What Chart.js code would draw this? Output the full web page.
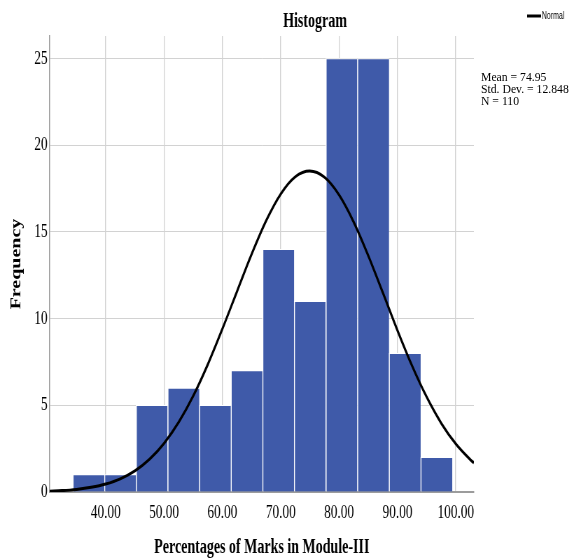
<!DOCTYPE html>
<html>
<head>
<meta charset="utf-8">
<script src="https://cdn.jsdelivr.net/npm/chart.js@4"></script>
<style>
  html, body { margin: 0; padding: 0; background: #fff; overflow: hidden; }
  #wrap { position: absolute; left: 0; top: 0; width: 816px; height: 558px; transform: scaleX(0.7); transform-origin: 0 0; }
  #stats { position: absolute; left: 481px; top: 71px; font: 13px/12.2px "Liberation Serif", serif; color: #000; transform: scaleX(0.9); transform-origin: 0 0; white-space: nowrap; }
</style>
</head>
<body>
<div id="wrap"><canvas id="myChart" width="816" height="558"></canvas></div>
<div id="stats">Mean = 74.95<br>Std. Dev. = 12.848<br>N = 110</div>
<script>
// histogram bins (centre of each bin) and counts
const binCenters = [37.06, 42.48, 47.90, 53.32, 58.74, 64.16, 69.58, 75.00, 80.42, 85.84, 91.26, 96.68];
const frequencies = [1, 1, 5, 6, 5, 7, 14, 11, 25, 25, 8, 2];

// normal curve
const curveX = [30.4, 32.5, 35, 37.5, 40, 42.5, 45, 47.5, 50, 52.5, 55, 57.5, 60, 62.5, 65, 67.5, 70, 72.5, 74.95,
  77.5, 80, 82.5, 85, 87.5, 90, 92.5, 95, 97.5, 100, 102.5, 103.1];
const curveY = [0.05, 0.08, 0.15, 0.27, 0.46, 0.76, 1.22, 1.89, 2.81, 4.02, 5.54, 7.36, 9.41, 11.57, 13.71, 15.65, 17.19, 18.18, 18.51,
  18.15, 17.13, 15.57, 13.63, 11.49, 9.32, 7.28, 5.48, 3.97, 2.77, 1.86, 1.68];

const xTicks = [40, 50, 60, 70, 80, 90, 100];
const yTicks = [0, 5, 10, 15, 20, 25];

const chartTitle = 'Histogram';
const xTitle = 'Percentages of Marks in Module-III';
const yTitle = 'Frequency';

const serif = '"Liberation Serif", "Times New Roman", serif';

const header = {
  id: 'header',
  afterDraw(chart) {
    const ctx = chart.ctx;
    ctx.save();
    ctx.fillStyle = '#000';
    ctx.font = 'bold 20px ' + serif;
    ctx.textAlign = 'center';
    ctx.textBaseline = 'alphabetic';
    ctx.fillText(chartTitle, 450, 26.5);
    // legend entry for the curve
    ctx.strokeStyle = '#000';
    ctx.lineWidth = 3;
    ctx.beginPath();
    ctx.moveTo(753, 16);
    ctx.lineTo(773, 16);
    ctx.stroke();
    ctx.font = '10px "Liberation Sans", Arial, sans-serif';
    ctx.textAlign = 'left';
    ctx.textBaseline = 'middle';
    ctx.fillText(chart.data.datasets[0].label, 774, 16.5);
    ctx.restore();
  }
};

const data = {
  datasets: [
    {
      type: 'line',
      label: 'Normal',
      data: curveX.map((x, i) => ({ x: x, y: curveY[i] })),
      borderColor: '#000',
      borderWidth: 3,
      pointRadius: 0,
      fill: false,
      tension: 0.4,
      cubicInterpolationMode: 'monotone',
      order: 0
    },
    {
      type: 'bar',
      label: 'Frequency',
      data: binCenters.map((x, i) => ({ x: x, y: frequencies[i] })),
      backgroundColor: '#3f5aa9',
      borderColor: '#ffffff',
      borderWidth: { left: 1.5, right: 0, top: 1, bottom: 0 },
      borderSkipped: false,
      categoryPercentage: 1,
      barPercentage: 1,
      order: 1
    }
  ]
};

const config = {
  type: 'bar',
  data: data,
  options: {
    responsive: false,
    animation: false,
    devicePixelRatio: 1,
    layout: { padding: { top: 36, right: 139, bottom: 0, left: 0 } },
    plugins: {
      legend: { display: false },
      title: { display: false },
      tooltip: { enabled: false }
    },
    scales: {
      x: {
        type: 'linear',
        min: 30.4,
        max: 103.1,
        offset: false,
        afterFit(scale) { scale.height = 66; },
        afterBuildTicks(scale) { scale.ticks = xTicks.map(v => ({ value: v })); },
        ticks: {
          color: '#000',
          font: { family: serif, size: 19 },
          padding: 10,
          callback: v => v.toFixed(2)
        },
        grid: { color: '#d2d2d2', lineWidth: 1.4, drawTicks: false, offset: false },
        border: { color: '#9c9c9c', width: 2 },
        title: {
          display: true,
          text: xTitle,
          color: '#000',
          font: { family: serif, size: 20, weight: 'bold', lineHeight: 1 },
          padding: 0
        }
      },
      y: {
        min: 0,
        max: 26.3,
        afterFit(scale) { scale.width = 71; },
        afterBuildTicks(scale) { scale.ticks = yTicks.map(v => ({ value: v })); },
        ticks: {
          color: '#000',
          font: { family: serif, size: 19 },
          padding: 3
        },
        grid: { color: '#d2d2d2', lineWidth: 1, drawTicks: false },
        border: { color: '#9c9c9c', width: 1.5 },
        title: {
          display: true,
          text: yTitle,
          color: '#000',
          font: { family: serif, size: 20, weight: 'bold', lineHeight: 1.2 },
          padding: { top: 12, bottom: 0 }
        }
      }
    }
  },
  plugins: [header]
};

const myChart = new Chart(document.getElementById('myChart'), config);
</script>
</body>
</html>
